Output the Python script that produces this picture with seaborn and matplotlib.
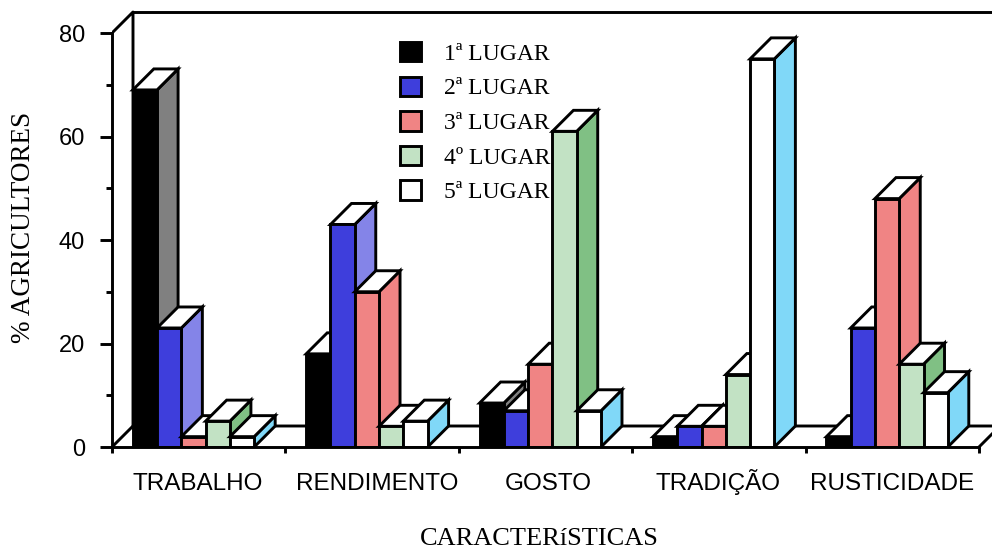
import numpy as np
import pandas as pd
import matplotlib
matplotlib.use("Agg")
import matplotlib.pyplot as plt
from matplotlib.transforms import ScaledTranslation
import seaborn as sns

categories = ["TRABALHO", "RENDIMENTO", "GOSTO", "TRADIÇÃO", "RUSTICIDADE"]
places = ["1ª LUGAR", "2ª LUGAR", "3ª LUGAR", "4º LUGAR", "5ª LUGAR"]
lugar1 = [69, 18, 8.5, 2, 2]
lugar2 = [23, 43, 7, 4, 23]
lugar3 = [2, 30, 16, 4, 48]
lugar4 = [5, 4, 61, 14, 16]
lugar5 = [2, 5, 7, 75, 10.5]
front_colors = ["#000000", "#3e3edc", "#f08484", "#c2e2c4", "#ffffff"]
side_colors = ["#808080", "#8484e8", "#f08484", "#80c084", "#80d8f8"]
label_shift_px = [4.5, 10, 7.5, 4, 4.5]

values = [lugar1, lugar2, lugar3, lugar4, lugar5]
df = pd.DataFrame({
    "cat": np.tile(categories, len(places)),
    "place": np.repeat(places, len(categories)),
    "val": np.concatenate(values),
})

sns.set_style("white")
plt.rcParams["text.color"] = "black"
plt.rcParams["xtick.color"] = "black"
plt.rcParams["ytick.color"] = "black"
plt.rcParams["axes.labelcolor"] = "black"
W, H = 992, 552
fig = plt.figure(figsize=(W / 100, H / 100), dpi=100)
ax = fig.add_axes([112 / W, (H - 447) / H, (W - 112) / W, 447 / H])

LW = 2.1
sns.barplot(data=df, x="cat", y="val", hue="place", hue_order=places,
            order=categories, palette=front_colors, width=0.7, gap=0,
            edgecolor="black", linewidth=LW, saturation=1, ax=ax)

px_x, px_y = 173.4, 5.175
x_left = -81.5 / px_x
ax.set_xlim(x_left, x_left + (W - 112) / px_x)
ax.set_ylim(0, 447 / px_y)
dx, dy = 21 / px_x, 21 / px_y
x_end = x_left + len(categories)

# 3-D frame of the chart
frame = dict(color="black", lw=LW, zorder=1, solid_capstyle="projecting")
ax.plot([x_left, x_left + dx, x_left + dx, ax.get_xlim()[1]],
        [80, 80 + dy, dy, dy], **frame)
ax.plot([x_left + dx, ax.get_xlim()[1]], [80 + dy, 80 + dy], **frame)
ax.plot([x_left, x_left + dx], [0, dy], **frame)
ax.plot([x_end, x_end + dx], [0, dy], **frame)

# Side and top faces, painted bar by bar so later bars cover earlier ones
order = 2
for h, container in enumerate(ax.containers):
    for bar in container.patches:
        x0, w, v = bar.get_x(), bar.get_width(), bar.get_height()
        x1 = x0 + w
        ax.fill([x1, x1 + dx, x1 + dx, x1], [0, dy, v + dy, v],
                facecolor=side_colors[h], edgecolor="black", lw=LW,
                joinstyle="miter", zorder=order + h * 3)
        ax.fill([x0, x0 + dx, x1 + dx, x1], [v, v + dy, v + dy, v],
                facecolor="white", edgecolor="black", lw=LW,
                joinstyle="miter", zorder=order + h * 3 + 1)
        bar.set_zorder(order + h * 3 + 2)
        bar.set_joinstyle("miter")

for name in ("top", "right"):
    ax.spines[name].set_visible(False)
for name in ("left", "bottom"):
    ax.spines[name].set_linewidth(LW)
    ax.spines[name].set_color("black")
    ax.spines[name].set_zorder(40)
ax.spines["left"].set_bounds(0, 80)
ax.spines["bottom"].set_bounds(x_left, x_end)

ax.set_yticks(range(0, 81, 20))
ax.set_yticks(range(10, 80, 20), minor=True)
ax.tick_params(axis="y", which="major", left=True, length=8.5, width=LW, pad=11,
               labelsize=17, labelfontfamily="Liberation Sans", colors="black")
ax.tick_params(axis="y", which="minor", left=True, length=4.5, width=LW, colors="black")

ax.set_xticks(range(len(categories)))
ax.set_xticklabels(categories)
ax.set_xticks(x_left + np.arange(len(categories) + 1), minor=True)
ax.tick_params(axis="x", which="major", length=0, pad=31,
               labelsize=17.5, labelfontfamily="Liberation Sans", colors="black")
ax.tick_params(axis="x", which="minor", bottom=True, length=4, width=LW, colors="black")
for lab, s in zip(ax.get_xticklabels(), label_shift_px):
    lab.set_verticalalignment("baseline")
    lab.set_transform(lab.get_transform() + ScaledTranslation(s / 100, 0, fig.dpi_scale_trans))

ax.set_xlabel("CARACTERíSTICAS", family="Liberation Serif", fontsize=19, color="black")
ax.set_ylabel("% AGRICULTORES", family="Liberation Serif", fontsize=19.5, color="black")
ax.xaxis.set_label_coords((539 - 112) / (W - 112), -(539 - 447) / 447)
ax.xaxis.label.set_verticalalignment("center")
ax.yaxis.set_label_coords((24 - 112) / (W - 112), (447 - 227) / 447)
ax.yaxis.label.set_verticalalignment("center")

leg = ax.legend(loc="upper left", bbox_to_anchor=((400 - 112) / (W - 112), (447 - 42) / 447),
                frameon=False, prop={"family": "Liberation Serif", "size": 17},
                handlelength=0.88, handleheight=0.88, labelspacing=0.5,
                handletextpad=1.0, borderaxespad=0, borderpad=0, title=None,
                labelcolor="black")
leg.set_zorder(50)

fig.savefig("out.png", dpi=100, facecolor="white")
